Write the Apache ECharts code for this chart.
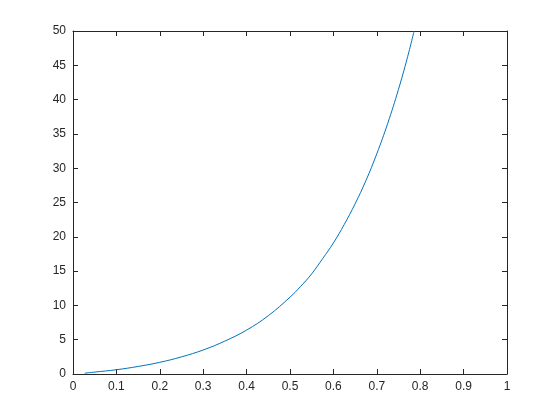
<!DOCTYPE html>
<html><head><meta charset="utf-8">
<script src="https://cdn.jsdelivr.net/npm/echarts@6/dist/echarts.min.js"></script>
<style>html,body{margin:0;padding:0;background:#fff}#c{width:560px;height:420px}</style>
</head><body><div id="c"></div>
<script>
var xValues = [0.027, 0.05, 0.1, 0.15, 0.2, 0.25, 0.3, 0.35, 0.4, 0.45, 0.5, 0.525, 0.55, 0.575, 0.6, 0.625, 0.65, 0.675, 0.7, 0.725, 0.75, 0.77, 0.786];
var yValues = [0.12, 0.28, 0.62, 1.1, 1.7, 2.5, 3.5, 4.8, 6.4, 8.5, 11.2, 12.8, 14.6, 16.8, 19.1, 21.8, 24.8, 28.2, 32.1, 36.5, 41.5, 46.0, 50.0];
var xTicks = [0, 0.1, 0.2, 0.3, 0.4, 0.5, 0.6, 0.7, 0.8, 0.9, 1];
var yTicks = [0, 5, 10, 15, 20, 25, 30, 35, 40, 45, 50];

var data = xValues.map(function (x, i) { return [x, yValues[i]]; });
var axisCol = '#262626';
var font = 'Liberation Sans, Arial, sans-serif';
function ax(pos, min, max, interval, showLabel, fmt) {
  return {
    type: 'value', position: pos, min: min, max: max, interval: interval,
    axisLine: { show: true, onZero: false, lineStyle: { color: axisCol, width: 1 } },
    axisTick: { show: true, inside: true, length: 5, lineStyle: { color: axisCol } },
    axisLabel: { show: showLabel, color: axisCol, fontFamily: font, fontSize: 12, margin: 7, formatter: fmt },
    splitLine: { show: false }
  };
}
var fx = function (v) { return String(Math.round(v * 10) / 10); };
var fy = function (v) { return String(v); };
var chart = echarts.init(document.getElementById('c'), null, { renderer: 'canvas' });
chart.setOption({
  animation: false,
  backgroundColor: '#ffffff',
  grid: { left: 73, right: 53, top: 31, bottom: 46 },
  xAxis: [ax('bottom', xTicks[0], xTicks[xTicks.length - 1], 0.1, true, fx),
          ax('top', xTicks[0], xTicks[xTicks.length - 1], 0.1, false, fx)],
  yAxis: [ax('left', yTicks[0], yTicks[yTicks.length - 1], 5, true, fy),
          ax('right', yTicks[0], yTicks[yTicks.length - 1], 5, false, fy)],
  series: [{
    type: 'line', data: data, xAxisIndex: 0, yAxisIndex: 0,
    showSymbol: false, smooth: 0.4, clip: true,
    lineStyle: { color: '#0072BD', width: 1 }
  }]
});
</script></body></html>
